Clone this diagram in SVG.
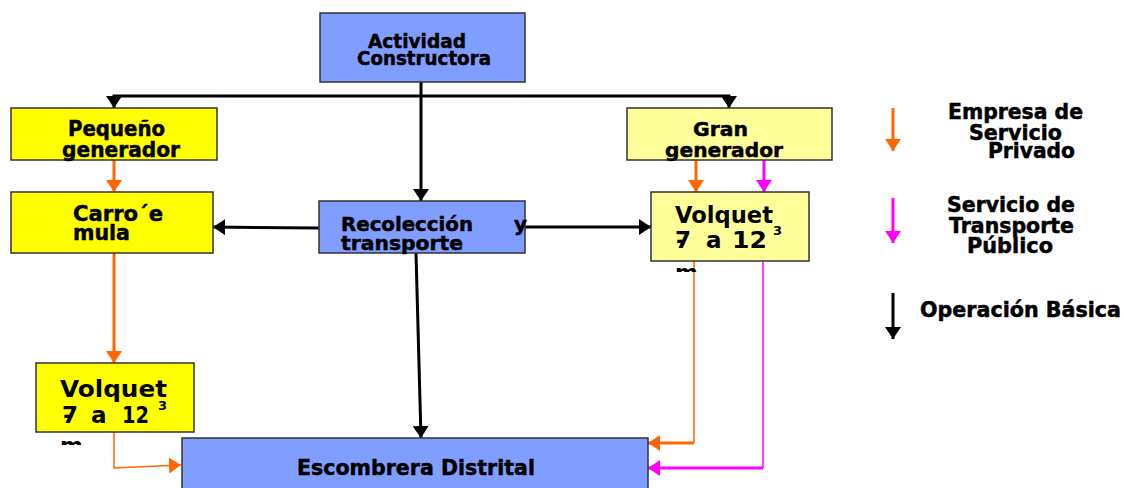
<svg xmlns="http://www.w3.org/2000/svg" width="1124" height="488" viewBox="0 0 1124 488">
<style>
.t{font-family:"DejaVu Sans",Verdana,sans-serif;font-weight:bold;fill:#000;stroke:#000;stroke-width:0.5}
.g{font-family:"DejaVu Sans",Verdana,sans-serif;font-weight:bold;fill:#000}
.blue{fill:#7f9eff;stroke:#333;stroke-width:1.5}
.yel{fill:#ffff00;stroke:#333;stroke-width:1.5}
.lyel{fill:#ffff99;stroke:#333;stroke-width:1.5}
.k{fill:none;stroke:#000;stroke-width:3}
.o{fill:none;stroke:#ff6600;stroke-width:3}
.ot{fill:none;stroke:#ff6600;stroke-width:1.5}
.m{fill:none;stroke:#ff00ff;stroke-width:3}
.mt{fill:none;stroke:#ff00ff;stroke-width:1.5}
</style>
<defs>
<marker id="ak" markerUnits="userSpaceOnUse" markerWidth="12" markerHeight="16" refX="12" refY="8" orient="auto"><path d="M0,0 L12,8 L0,16 z" fill="#000"/></marker>
<marker id="ao" markerUnits="userSpaceOnUse" markerWidth="12" markerHeight="16" refX="12" refY="8" orient="auto"><path d="M0,0 L12,8 L0,16 z" fill="#ff6600"/></marker>
<marker id="am" markerUnits="userSpaceOnUse" markerWidth="12" markerHeight="16" refX="12" refY="8" orient="auto"><path d="M0,0 L12,8 L0,16 z" fill="#ff00ff"/></marker>
<clipPath id="cl"><rect x="55" y="437" width="40" height="8"/></clipPath>
<clipPath id="cr"><rect x="670" y="264" width="40" height="8"/></clipPath>
</defs>

<g id="connectors">
<path class="k" d="M421,82 V201" marker-end="url(#ak)"/>
<path class="k" d="M421,96 H114 V108" marker-end="url(#ak)"/>
<path class="k" d="M421,96 H729 V108" marker-end="url(#ak)"/>
<path class="k" d="M319,228 L213,227" marker-end="url(#ak)"/>
<path class="k" d="M525,227 L651,227" marker-end="url(#ak)"/>
<path class="k" d="M416,253 L421,438" marker-end="url(#ak)"/>
<path class="o" d="M114,160 V192" marker-end="url(#ao)"/>
<path class="o" d="M114,253 V363" marker-end="url(#ao)"/>
<path class="ot" d="M114,432 V468 L181,465" marker-end="url(#ao)"/>
<path class="o" d="M696,160 V192" marker-end="url(#ao)"/>
<path class="m" d="M764,160 V192" marker-end="url(#am)"/>
<path class="ot" d="M694,261 V443"/>
<path class="o" d="M694,443 H648" marker-end="url(#ao)"/>
<path class="mt" d="M763,261 V468"/>
<path class="m" d="M763,468 H648" marker-end="url(#am)"/>
<path class="o" d="M893,108 V151" marker-end="url(#ao)"/>
<path class="m" d="M893,198 V243" marker-end="url(#am)"/>
<path class="k" d="M893,293 V339" marker-end="url(#ak)"/>
</g>

<g id="actividad">
<rect class="blue" x="320" y="13" width="205" height="69"/>
<text class="t" font-size="20" x="368" y="48" textLength="98" lengthAdjust="spacingAndGlyphs">Actividad</text>
<text class="t" font-size="20" x="357" y="65" textLength="134" lengthAdjust="spacingAndGlyphs">Constructora</text>
</g>

<g id="pequeno">
<rect class="yel" x="11" y="108" width="206" height="52"/>
<text class="t" font-size="21" x="68" y="136" textLength="97" lengthAdjust="spacingAndGlyphs">Pequeño</text>
<text class="t" font-size="21" x="62" y="157" textLength="118" lengthAdjust="spacingAndGlyphs">generador</text>
</g>

<g id="carro">
<rect class="yel" x="11" y="192" width="202" height="61"/>
<text class="t" font-size="22" x="73" y="221" textLength="90" lengthAdjust="spacingAndGlyphs">Carro´e</text>
<text class="t" font-size="22" x="73" y="240" textLength="57" lengthAdjust="spacingAndGlyphs">mula</text>
</g>

<g id="recoleccion">
<rect class="blue" x="319" y="201" width="206" height="52"/>
<text class="t" font-size="20" x="341" y="231" textLength="132" lengthAdjust="spacingAndGlyphs">Recolección</text>
<text class="t" font-size="20" x="514" y="231">y</text>
<text class="t" font-size="20" x="341" y="250" textLength="122" lengthAdjust="spacingAndGlyphs">transporte</text>
</g>

<g id="gran">
<rect class="lyel" x="627" y="108" width="205" height="52"/>
<text class="t" font-size="20" x="693" y="136" textLength="55" lengthAdjust="spacingAndGlyphs">Gran</text>
<text class="t" font-size="20" x="665" y="157" textLength="118" lengthAdjust="spacingAndGlyphs">generador</text>
</g>

<g id="volquet-derecha">
<rect class="lyel" x="651" y="192" width="158" height="69"/>
<text class="g" font-size="23" x="675" y="223" textLength="98" lengthAdjust="spacingAndGlyphs">Volquet</text>
<text class="g" font-size="23" y="248"><tspan x="676">-</tspan><tspan x="675">7</tspan><tspan x="706">a</tspan><tspan x="732" textLength="35" lengthAdjust="spacingAndGlyphs">12</tspan></text>
<text class="g" font-size="13" x="773" y="235">3</text>
<text class="g" font-size="22" x="675" y="280" clip-path="url(#cr)">m</text>
</g>

<g id="volquet-izquierda">
<rect class="yel" x="36" y="363" width="158" height="69"/>
<text class="g" font-size="23" x="60" y="397" textLength="107" lengthAdjust="spacingAndGlyphs">Volquet</text>
<text class="g" font-size="23" y="423"><tspan x="63">-</tspan><tspan x="62">7</tspan><tspan x="91">a</tspan><tspan x="122" textLength="27" lengthAdjust="spacingAndGlyphs">12</tspan></text>
<text class="g" font-size="13" x="158" y="410">3</text>
<text class="g" font-size="22" x="60" y="453" clip-path="url(#cl)">m</text>
</g>

<g id="escombrera">
<rect class="blue" x="182" y="438" width="466" height="60"/>
<text class="t" font-size="22" x="297" y="475" textLength="238" lengthAdjust="spacingAndGlyphs">Escombrera Distrital</text>
</g>

<g id="leyenda">
<text class="t" font-size="21" x="948" y="119" textLength="135" lengthAdjust="spacingAndGlyphs">Empresa de</text>
<text class="t" font-size="21" x="969" y="140" textLength="93" lengthAdjust="spacingAndGlyphs">Servicio</text>
<text class="t" font-size="21" x="988" y="158" textLength="87" lengthAdjust="spacingAndGlyphs">Privado</text>
<text class="t" font-size="21" x="947" y="212" textLength="128" lengthAdjust="spacingAndGlyphs">Servicio de</text>
<text class="t" font-size="21" x="949" y="233" textLength="125" lengthAdjust="spacingAndGlyphs">Transporte</text>
<text class="t" font-size="21" x="967" y="253" textLength="86" lengthAdjust="spacingAndGlyphs">Público</text>
<text class="t" font-size="21" x="920" y="317" textLength="201" lengthAdjust="spacingAndGlyphs">Operación Básica</text>
</g>
</svg>
